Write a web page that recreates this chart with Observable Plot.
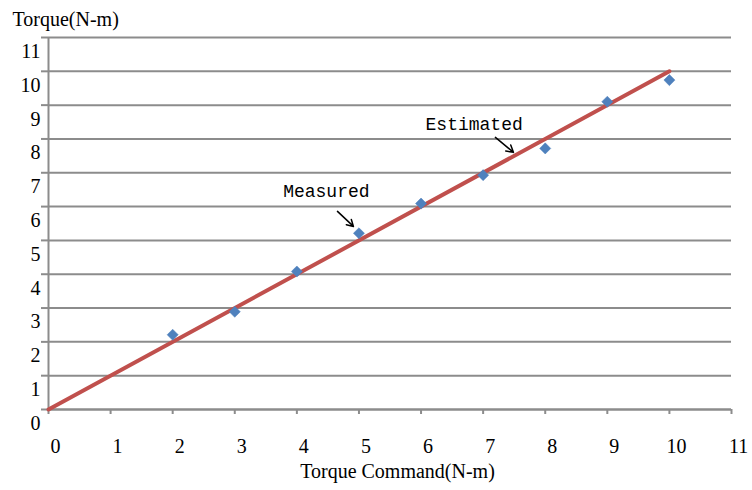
<!DOCTYPE html>
<html>
<head>
<meta charset="utf-8">
<script src="https://cdn.jsdelivr.net/npm/d3@7"></script>
<script src="https://cdn.jsdelivr.net/npm/@observablehq/plot@0.6"></script>
<style>
  html, body { margin: 0; padding: 0; background: #fff; }
</style>
</head>
<body>
<div id="chart"></div>
<script>
// ---- data ----
const commands = [2, 3, 4, 5, 6, 7, 8, 9, 10];
const measured = [2.21, 2.89, 4.08, 5.21, 6.09, 6.93, 7.72, 9.10, 9.74];
const estimatedX = [0, 10];
const estimatedY = [0, 10];
const xTicks = [0, 1, 2, 3, 4, 5, 6, 7, 8, 9, 10, 11];
const yTicks = [0, 1, 2, 3, 4, 5, 6, 7, 8, 9, 10, 11];
const xTitle = "Torque Command(N-m)";
const yTitle = "Torque(N-m)";
const noteLabels = ["Measured", "Estimated"];
const noteLabelX = [4.475, 6.855];
const noteLabelY = [6.46, 8.45];
const noteArrowX1 = [4.654, 7.198];
const noteArrowY1 = [5.858, 8.047];
const noteArrowX2 = [4.911, 7.488];
const noteArrowY2 = [5.414, 7.604];

const points = commands.map((c, i) => ({x: c, y: measured[i]}));
const estLine = estimatedX.map((x, i) => ({x, y: estimatedY[i]}));
const notes = noteLabels.map((t, i) => ({
  text: t, x: noteLabelX[i], y: noteLabelY[i],
  x1: noteArrowX1[i], y1: noteArrowY1[i], x2: noteArrowX2[i], y2: noteArrowY2[i]
}));

const gray = "#8c8c8c";
const serif = "'Liberation Serif', 'Times New Roman', serif";
const mono = "'Liberation Mono', 'DejaVu Sans Mono', monospace";

const chart = Plot.plot({
  width: 752,
  height: 490,
  marginLeft: 48,
  marginRight: 21,
  marginTop: 37,
  marginBottom: 81,
  style: {fontFamily: serif, background: "#fff", color: "#000"},
  x: {domain: [0, 11]},
  y: {domain: [0, 11]},
  marks: [
    // horizontal gridlines
    Plot.ruleY(yTicks, {x1: 0, x2: 11, stroke: gray, strokeWidth: 2}),
    // y axis tick marks
    Plot.axisY({ticks: yTicks, tickSize: 7, stroke: gray, strokeWidth: 2, strokeOpacity: 1,
      tickFormat: () => "", label: null}),
    // y axis labels (offset below gridlines)
    Plot.axisY({ticks: yTicks, tickSize: 0, tickPadding: 8, fontSize: 20, fill: "#000", dy: 14,
      label: null, tickFormat: d => String(d)}),
    // x axis tick marks
    Plot.axisX({ticks: xTicks, tickSize: 5, stroke: gray, strokeWidth: 2, strokeOpacity: 1,
      tickFormat: () => "", label: null}),
    // x axis labels (offset right of ticks)
    Plot.axisX({ticks: xTicks, tickSize: 0, tickPadding: 29, fontSize: 20, fill: "#000", dx: 7,
      label: null, tickFormat: d => String(d)}),
    // axis lines
    Plot.ruleX([0], {y1: 0, y2: 11, stroke: gray, strokeWidth: 2}),
    Plot.ruleY([0], {x1: 0, x2: 11, stroke: gray, strokeWidth: 2}),
    // estimated line
    Plot.line(estLine, {x: "x", y: "y", stroke: "#C0504D", strokeWidth: 4}),
    // measured points
    Plot.dot(points, {x: "x", y: "y", symbol: "diamond2", r: 5, fill: "#4F81BD", stroke: "#4F81BD", strokeWidth: 0.5}),
    // annotations
    Plot.text(notes, {x: "x", y: "y", text: "text", fontFamily: mono, fontSize: 18, fill: "#000", textAnchor: "middle", lineAnchor: "middle"}),
    Plot.arrow(notes, {x1: "x1", y1: "y1", x2: "x2", y2: "y2", stroke: "#000", strokeWidth: 1.5, headLength: 9}),
    // titles
    Plot.text([yTitle], {frameAnchor: "top-left", dx: -36, dy: -18, textAnchor: "start", lineAnchor: "middle", fontSize: 20, fill: "#000"}),
    Plot.text([xTitle], {frameAnchor: "bottom", dx: 7.5, dy: 62, textAnchor: "middle", lineAnchor: "middle", fontSize: 20, fill: "#000"})
  ]
});
document.getElementById("chart").appendChild(chart);
</script>
</body>
</html>
